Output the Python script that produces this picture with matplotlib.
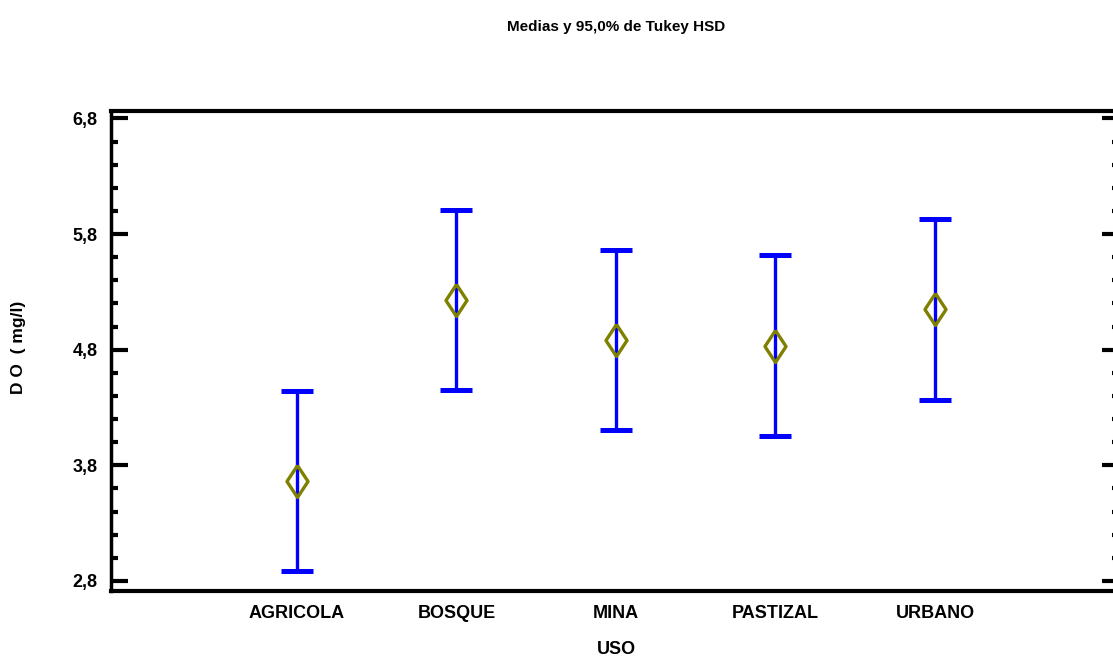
import matplotlib
matplotlib.use("Agg")
import matplotlib.pyplot as plt
from matplotlib.ticker import MultipleLocator, FixedLocator, FixedFormatter

# Tukey HSD 95% intervals of dissolved oxygen by land use
categories = ["AGRICOLA", "BOSQUE", "MINA", "PASTIZAL", "URBANO"]
means = [3.667, 5.230, 4.884, 4.836, 5.148]
half_widths = [0.779, 0.779, 0.781, 0.779, 0.781]
y_ticks = [2.8, 3.8, 4.8, 5.8, 6.8]
y_tick_labels = ["2,8", "3,8", "4,8", "5,8", "6,8"]

narrow = ["Liberation Sans Narrow", "Liberation Sans", "DejaVu Sans"]
wide = ["Liberation Sans", "DejaVu Sans"]

# tall open diamond for the group means
diamond = [(0, 1), (0.66, 0), (0, -1), (-0.66, 0), (0, 1)]

fig = plt.figure(figsize=(11.13, 6.59), dpi=100)
ax = fig.add_axes([0.1000, 0.1032, 0.9054, 0.7284])

x = list(range(1, len(categories) + 1))
ax.errorbar(x, means, yerr=half_widths, fmt="none", ecolor="#0000ff",
            elinewidth=2.4, capsize=11.5, capthick=3.6, zorder=2)
ax.plot(x, means, linestyle="none", marker=diamond, markersize=23,
        markerfacecolor="none", markeredgecolor="#808000",
        markeredgewidth=2.4, zorder=3)

ax.set_xlim(-0.164, 6.154)
ax.set_ylim(2.713, 6.865)

ax.yaxis.set_major_locator(FixedLocator(y_ticks))
ax.yaxis.set_major_formatter(FixedFormatter(y_tick_labels))
ax.yaxis.set_minor_locator(MultipleLocator(0.2))
ax.set_xticks(x)
ax.set_xticklabels(categories, family=narrow, fontweight="bold", fontsize=13)

ax.tick_params(axis="y", which="major", direction="in", length=12, width=3,
               left=True, right=True, pad=10)
ax.tick_params(axis="y", which="minor", direction="in", length=5, width=3,
               left=True, right=True)
ax.tick_params(axis="x", length=0, pad=10)
for lbl in ax.get_yticklabels():
    lbl.set_family(narrow)
    lbl.set_fontweight("bold")
    lbl.set_fontsize(13)

for side in ["top", "bottom"]:
    ax.spines[side].set_linewidth(3)
ax.spines["left"].set_linewidth(2.5)
ax.spines["right"].set_linewidth(2.5)

fig.text(616 / 1113, 1 - 27 / 659, "Medias y 95,0% de Tukey HSD",
         ha="center", va="center", family=narrow, fontweight="bold", fontsize=11)
fig.text(616 / 1113, 1 - 650 / 659, "USO", ha="center", va="center",
         family=narrow, fontweight="bold", fontsize=13)
fig.text(19 / 1113, 1 - 347 / 659, "D O  ( mg/l)", ha="center", va="center",
         rotation=90, family=wide, fontweight="bold", fontsize=12.5)

fig.savefig("out.png", dpi=100)
